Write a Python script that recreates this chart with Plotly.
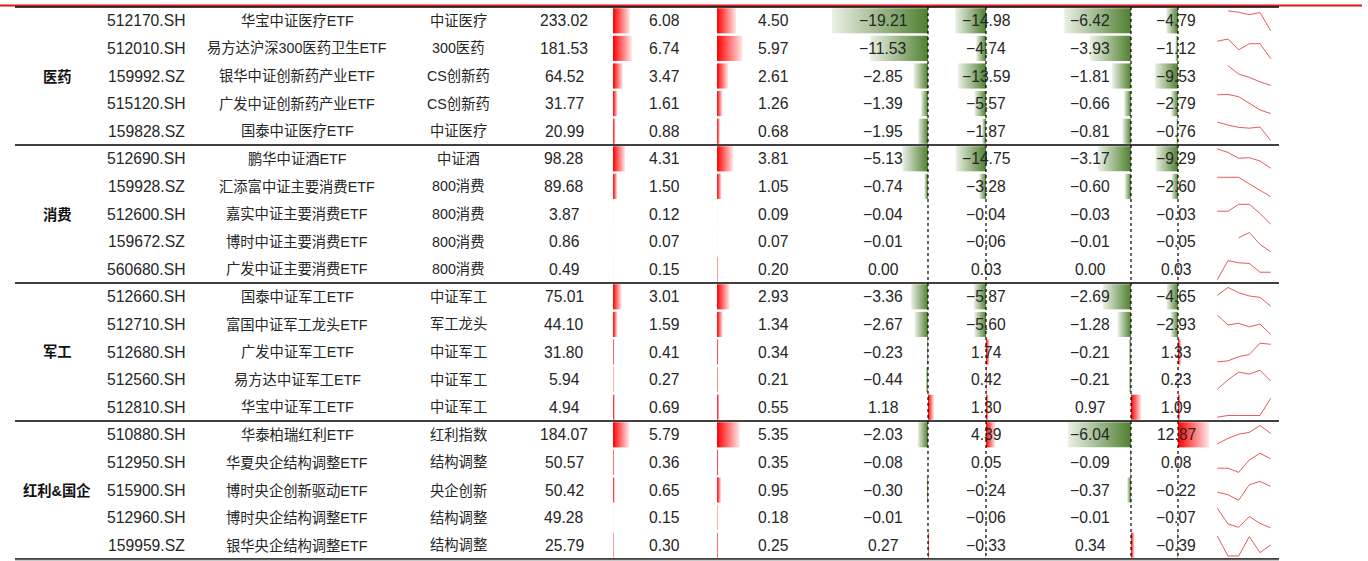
import plotly.graph_objects as go

W, H = 1368, 561

# ---------------- data ----------------
groups = ["医药", "消费", "军工", "红利&国企"]
group_sizes = [5, 5, 5, 5]
codes = ["512170.SH", "512010.SH", "159992.SZ", "515120.SH", "159828.SZ",
         "512690.SH", "159928.SZ", "512600.SH", "159672.SZ", "560680.SH",
         "512660.SH", "512710.SH", "512680.SH", "512560.SH", "512810.SH",
         "510880.SH", "512950.SH", "515900.SH", "512960.SH", "159959.SZ"]
fund_names = ["华宝中证医疗ETF", "易方达沪深300医药卫生ETF", "银华中证创新药产业ETF", "广发中证创新药产业ETF", "国泰中证医疗ETF",
              "鹏华中证酒ETF", "汇添富中证主要消费ETF", "嘉实中证主要消费ETF", "博时中证主要消费ETF", "广发中证主要消费ETF",
              "国泰中证军工ETF", "富国中证军工龙头ETF", "广发中证军工ETF", "易方达中证军工ETF", "华宝中证军工ETF",
              "华泰柏瑞红利ETF", "华夏央企结构调整ETF", "博时央企创新驱动ETF", "博时央企结构调整ETF", "银华央企结构调整ETF"]
index_names = ["中证医疗", "300医药", "CS创新药", "CS创新药", "中证医疗",
               "中证酒", "800消费", "800消费", "800消费", "800消费",
               "中证军工", "军工龙头", "中证军工", "中证军工", "中证军工",
               "红利指数", "结构调整", "央企创新", "结构调整", "结构调整"]
fund_size = [233.02, 181.53, 64.52, 31.77, 20.99, 98.28, 89.68, 3.87, 0.86, 0.49,
             75.01, 44.10, 31.80, 5.94, 4.94, 184.07, 50.57, 50.42, 49.28, 25.79]
m1 = [6.08, 6.74, 3.47, 1.61, 0.88, 4.31, 1.50, 0.12, 0.07, 0.15,
      3.01, 1.59, 0.41, 0.27, 0.69, 5.79, 0.36, 0.65, 0.15, 0.30]
m2 = [4.50, 5.97, 2.61, 1.26, 0.68, 3.81, 1.05, 0.09, 0.07, 0.20,
      2.93, 1.34, 0.34, 0.21, 0.55, 5.35, 0.35, 0.95, 0.18, 0.25]
m3 = [-19.21, -11.53, -2.85, -1.39, -1.95, -5.13, -0.74, -0.04, -0.01, 0.00,
      -3.36, -2.67, -0.23, -0.44, 1.18, -2.03, -0.08, -0.30, -0.01, 0.27]
m4 = [-14.98, -4.74, -13.59, -5.57, -1.87, -14.75, -3.28, -0.04, -0.06, 0.03,
      -5.87, -5.60, 1.74, 0.42, 1.30, 4.39, 0.05, -0.24, -0.06, -0.33]
m5 = [-6.42, -3.93, -1.81, -0.66, -0.81, -3.17, -0.60, -0.03, -0.01, 0.00,
      -2.69, -1.28, -0.21, -0.21, 0.97, -6.04, -0.09, -0.37, -0.01, 0.34]
m6 = [-4.79, -1.12, -9.53, -2.79, -0.76, -9.29, -2.60, -0.03, -0.05, 0.03,
      -4.65, -2.93, 1.33, 0.23, 1.09, 12.87, 0.08, -0.22, -0.07, -0.39]
# sparkline levels (0 = bottom of cell, 100 = top of cell)
trend = [
    [None, 86, 81, 72, 80, 14],
    [76, 84, 45, 67, 67, 13],
    [None, 87, 57, 45, 29, 16],
    [82, 83, 75, 51, 27, 14],
    [83, 72, 64, 61, 65, 16],
    [86, 73, 52, 54, 42, 16],
    [83, 83, 83, 59, 35, 13],
    [60, 60, 85, 85, 52, 13],
    [None, None, 64, 83, 40, 13],
    [12, 81, 73, 71, 39, 39],
    [55, 84, 65, 53, 48, 16],
    [84, 48, 54, 41, 51, 14],
    [14, 18, 33, 41, 82, 78],
    [15, 49, 77, 70, 84, 45],
    [14, 20, 20, 20, 20, 82],
    [17, 37, 52, 59, 84, 55],
    [29, 29, 14, 59, 83, 63],
    [42, 33, 13, 69, 81, 63],
    [84, 27, 15, 54, 29, 13],
    [83, 11, 11, 81, 23, 51],
]

# ---------------- layout constants ----------------
ROW_TOP_PX = 7.0
ROW_PX = 27.6
N = len(codes)
BAR_HALF = 0.455
TABLE_X0, TABLE_X1 = 15, 1279

NUM_FONT = "Liberation Sans, Arial, Noto Sans CJK SC"
CJK_FONT = "Liberation Sans, Noto Sans CJK SC"
TXT_COLOR = "#262626"

text_cols = [  # (values, center_px, kind)
    (codes, 146, "num"), (fund_names, 297, "cjk"), (index_names, 458, "cjk"),
    (fund_size, 564, "val"), (m1, 664, "val"), (m2, 773, "val"),
    (m3, 883, "val"), (m4, 986, "val"), (m5, 1090, "val"), (m6, 1176, "val"),
]
bar_cols = [  # (values, zero_px, px_per_unit, dashed_axis)
    (m1, 613, 2.8, False), (m2, 717, 4.25, False), (m3, 928, 5.0, True),
    (m4, 986, 2.05, True), (m5, 1131, 10.4, True), (m6, 1178, 2.42, True),
]
SPARK_X0, SPARK_STEP = 1217.3, 10.68

RED_SCALE = [[0, "rgb(255,0,0)"], [1, "rgb(255,232,232)"]]
GREEN_SCALE = [[0, "rgb(234,240,229)"], [1, "rgb(80,128,48)"]]

y_top = -ROW_TOP_PX / ROW_PX - 0.5
y_bot = (H - ROW_TOP_PX) / ROW_PX - 0.5

fig = go.Figure()
layout_axes = {}

# ---------------- data bars ----------------
for k, (vals, zpx, s, dashed) in enumerate(bar_cols):
    ax = k + 2
    layout_axes[f"xaxis{ax}"] = dict(overlaying="x", anchor="y", range=[-zpx / s, (W - zpx) / s],
                                     visible=False, fixedrange=True)
    for i, v in enumerate(vals):
        if v == 0:
            continue
        fig.add_trace(go.Scatter(
            x=[0, v, v, 0, 0], y=[i - BAR_HALF, i - BAR_HALF, i + BAR_HALF, i + BAR_HALF, i - BAR_HALF],
            xaxis=f"x{ax}", yaxis="y", mode="lines", fill="toself", line=dict(width=0),
            fillgradient=dict(type="horizontal", colorscale=RED_SCALE if v > 0 else GREEN_SCALE),
            hoverinfo="skip", showlegend=False))

# ---------------- sparklines ----------------
sax = len(bar_cols) + 2
layout_axes[f"xaxis{sax}"] = dict(overlaying="x", anchor="y",
                                  range=[-SPARK_X0 / SPARK_STEP, (W - SPARK_X0) / SPARK_STEP],
                                  visible=False, fixedrange=True)
sx, sy = [], []
for i, lv in enumerate(trend):
    for j, v in enumerate(lv):
        sx.append(j)
        sy.append(None if v is None else i + 0.5 - v / 100.0)
    sx.append(None)
    sy.append(None)
fig.add_trace(go.Scatter(x=sx, y=sy, xaxis=f"x{sax}", yaxis="y", mode="lines",
                         line=dict(color="rgba(228,60,60,0.85)", width=1),
                         connectgaps=False, hoverinfo="skip", showlegend=False))

# base (invisible) trace for main axes
fig.add_trace(go.Scatter(x=[0], y=[0], mode="markers", marker=dict(opacity=0),
                         hoverinfo="skip", showlegend=False))

# ---------------- text ----------------
def fmt(v):
    return f"{v:.2f}".replace("-", "\u2212")

annos = []
for vals, cx, kind in text_cols:
    for i, v in enumerate(vals):
        if kind == "val":
            t, fam, sz = fmt(v), NUM_FONT, 15.7
        elif kind == "num":
            t, fam, sz = v, NUM_FONT, 15.7
        else:
            t, fam, sz = v, CJK_FONT, 14.3
        annos.append(dict(x=cx, y=i, xref="x", yref="y", text=t, showarrow=False,
                          xanchor="center", yanchor="middle",
                          font=dict(family=fam, size=sz, color=TXT_COLOR)))

start = 0
for g, n in zip(groups, group_sizes):
    annos.append(dict(x=57, y=start + (n - 1) / 2, xref="x", yref="y",
                      text="<b>" + g.replace("&", "&amp;") + "</b>", showarrow=False,
                      xanchor="center", yanchor="middle",
                      font=dict(family=CJK_FONT, size=14.3, color="#111111")))
    start += n

# ---------------- lines ----------------
shapes = []
# red header rule
shapes.append(dict(type="line", xref="x", yref="y", x0=0, x1=1362,
                   y0=-0.5 - 1.5 / ROW_PX, y1=-0.5 - 1.5 / ROW_PX,
                   line=dict(color="rgb(228,20,20)", width=2.2), layer="above"))
bounds = [-0.5]
acc = -0.5
for n in group_sizes:
    acc += n
    bounds.append(acc)
for b in bounds:
    shapes.append(dict(type="line", xref="x", yref="y", x0=TABLE_X0, x1=TABLE_X1, y0=b, y1=b,
                       line=dict(color="black", width=1.4), layer="above"))
shapes.append(dict(type="line", xref="x", yref="y", x0=TABLE_X0, x1=TABLE_X1,
                   y0=bounds[-1] + 1.6 / ROW_PX, y1=bounds[-1] + 1.6 / ROW_PX,
                   line=dict(color="rgb(200,200,200)", width=1.5), layer="above"))
for k, (vals, zpx, s, dashed) in enumerate(bar_cols):
    if dashed:
        shapes.append(dict(type="line", xref=f"x{k + 2}", yref="y", x0=0, x1=0,
                           y0=-0.5, y1=bounds[-1],
                           line=dict(color="black", width=1.2, dash="dot"), layer="above"))

fig.update_layout(
    width=W, height=H, margin=dict(l=0, r=0, t=0, b=0),
    paper_bgcolor="white", plot_bgcolor="white", showlegend=False,
    xaxis=dict(range=[0, W], visible=False, fixedrange=True, domain=[0, 1]),
    yaxis=dict(range=[y_bot, y_top], visible=False, fixedrange=True, domain=[0, 1]),
    annotations=annos, shapes=shapes, **layout_axes,
)

fig.write_html("out.html", config={"displayModeBar": False},
               post_script="document.body.style.margin='0';document.body.style.overflow='hidden';")
